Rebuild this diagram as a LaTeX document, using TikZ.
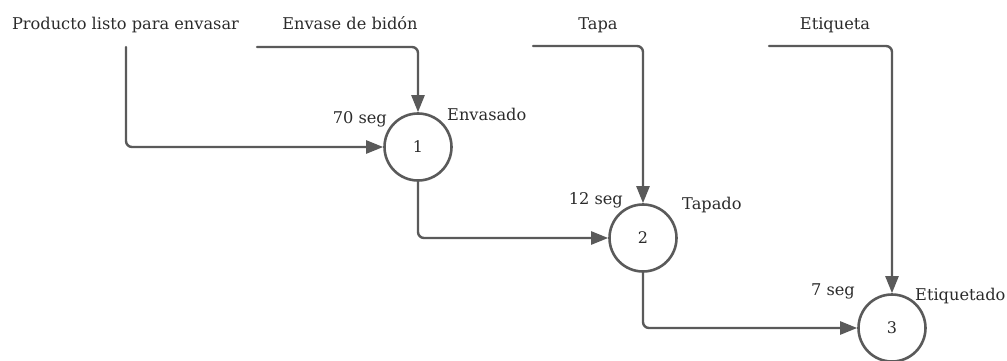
\documentclass[tikz,border=0pt]{standalone}
\usepackage{fontspec}
\setmainfont{DejaVu Serif}
\usepackage{xcolor}
\usetikzlibrary{arrows.meta}
\definecolor{lineagris}{HTML}{5A5A5A}
\definecolor{textogris}{HTML}{2B2B2B}

\begin{document}
\begin{tikzpicture}[x=1pt,y=-1pt,line cap=round,line join=round,
  flujo/.style={draw=lineagris,line width=2.4pt,rounded corners=6pt,
    -{Triangle[length=17pt,width=13pt]}},
  proceso/.style={circle,draw=lineagris,line width=2.6pt,minimum size=67pt,
    inner sep=0pt,text=textogris,font=\fontsize{16}{19}\selectfont},
  etq/.style={inner sep=0pt,text=textogris,font=\fontsize{16.2}{19}\selectfont}]
\useasboundingbox (0,0) rectangle (1007,361);

% operaciones
\node [proceso] (p1) at (418,147) {\fontsize{16}{19}\selectfont 1};
\node [proceso] (p2) at (643,238) {\fontsize{16}{19}\selectfont 2};
\node [proceso] (p3) at (892,328) {\fontsize{16}{19}\selectfont 3};

% entradas
\node [etq,anchor=base] (producto) at (125.5,29.5) {Producto listo para envasar};
\node [etq,anchor=base] (bidon) at (350,29.5) {Envase de bidón};
\node [etq,anchor=base] (tapa) at (598,29.5) {Tapa};
\node [etq,anchor=base] (etiqueta) at (835,29.5) {Etiqueta};

\coordinate (c0) at (126,47);
\coordinate (c1) at (257,47);
\coordinate (c2) at (533,46);
\coordinate (c3) at (769,46);

% tiempos y nombres
\node [etq,anchor=base east] (t1) at (387,124) {70 seg};
\node [etq,anchor=base west] (n1) at (447,121) {Envasado};
\node [etq,anchor=base east] (t2) at (623,204) {12 seg};
\node [etq,anchor=base west] (n2) at (682,209) {Tapado};
\node [etq,anchor=base east] (t3) at (855,295) {7 seg};
\node [etq,anchor=base west] (n3) at (915,300) {Etiquetado};

% flujo
\draw [flujo] (c0) |- (p1);
\draw [flujo] (c1) -| (p1);
\draw [flujo] (p1) |- (p2);
\draw [flujo] (c2) -| (p2);
\draw [flujo] (p2) |- (p3);
\draw [flujo] (c3) -| (p3);
\end{tikzpicture}
\end{document}
